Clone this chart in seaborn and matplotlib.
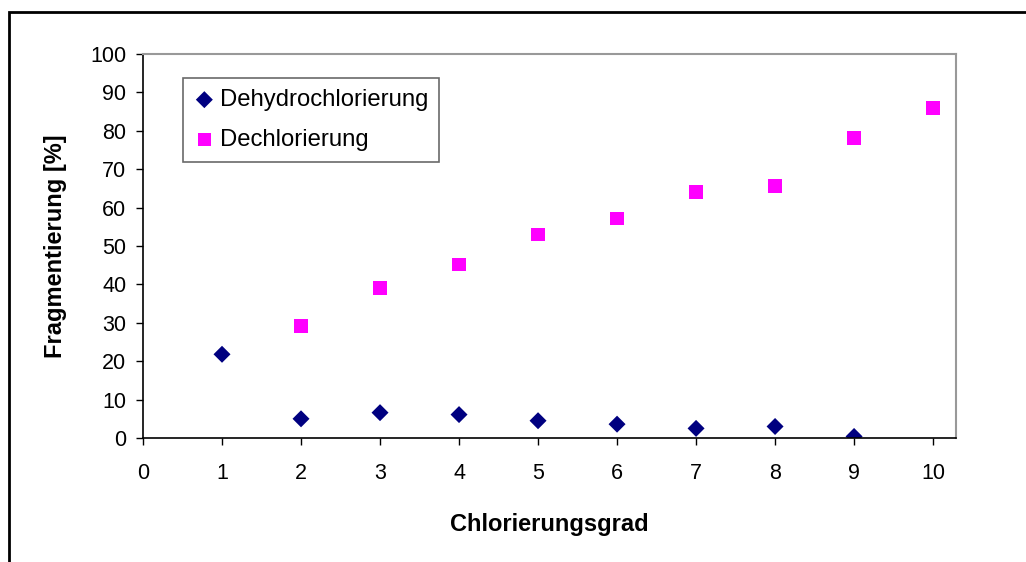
import numpy as np
import pandas as pd
import matplotlib
matplotlib.use('Agg')
import matplotlib.pyplot as plt
import seaborn as sns
from matplotlib.patches import Rectangle

sns.set_style('white')
plt.rcParams['font.family'] = ['Liberation Sans', 'DejaVu Sans']
plt.rcParams['text.color'] = 'black'
plt.rcParams['axes.labelcolor'] = 'black'
plt.rcParams['xtick.color'] = 'black'
plt.rcParams['ytick.color'] = 'black'

# Daten
grad_dehydro = [1, 2, 3, 4, 5, 6, 7, 8, 9]
dehydro = [21.8, 5.0, 6.6, 6.1, 4.5, 3.6, 2.5, 3.0, 0.4]
grad_dechlor = [2, 3, 4, 5, 6, 7, 8, 9, 10]
dechlor = [29.2, 39.1, 45.2, 53.0, 57.2, 64.1, 65.6, 78.1, 85.9]

fig = plt.figure(figsize=(10.26, 5.62), dpi=100)
fig.patches.append(Rectangle((9 / 1026, -0.01), 1.02, 1 - 12 / 562 + 0.01,
                             transform=fig.transFigure, fill=False,
                             edgecolor='black', linewidth=2))
ax = fig.add_axes([143 / 1026, 1 - 438 / 562, (956 - 143) / 1026, (438 - 54) / 562])

sns.scatterplot(x=grad_dehydro, y=dehydro, color='#000080', marker='D', s=75,
                edgecolor='none', ax=ax, label='Dehydrochlorierung')
sns.scatterplot(x=grad_dechlor, y=dechlor, color='#FF00FF', marker='s', s=95,
                edgecolor='none', ax=ax, label='Dechlorierung')

ax.set_xlim(0, 10.29)
ax.set_ylim(0, 100)
ax.set_xticks(range(0, 11))
ax.set_yticks(range(0, 101, 10))
ax.tick_params(axis='both', labelsize=15.5, length=5, width=1, color='black',
               direction='out', bottom=True, left=True)
ax.tick_params(axis='y', pad=7)
ax.tick_params(axis='x', pad=13)
for s in ['left', 'bottom']:
    ax.spines[s].set_color('black')
    ax.spines[s].set_linewidth(1.2)
for s in ['top', 'right']:
    ax.spines[s].set_color('#999999')
    ax.spines[s].set_linewidth(1.5)

ax.set_xlabel('Chlorierungsgrad', fontsize=17, fontweight='bold', labelpad=21)
ax.set_ylabel('Fragmentierung [%]', fontsize=17, fontweight='bold', labelpad=17)

leg = ax.legend(loc='upper left', bbox_to_anchor=(0.049, 0.937), fontsize=17.2,
                frameon=True, fancybox=False, edgecolor='#444444',
                handletextpad=0.2, borderpad=0.45, labelspacing=0.75,
                borderaxespad=0, handlelength=0.9)
leg.get_frame().set_linewidth(1.2)

plt.savefig('out.png', dpi=100)
